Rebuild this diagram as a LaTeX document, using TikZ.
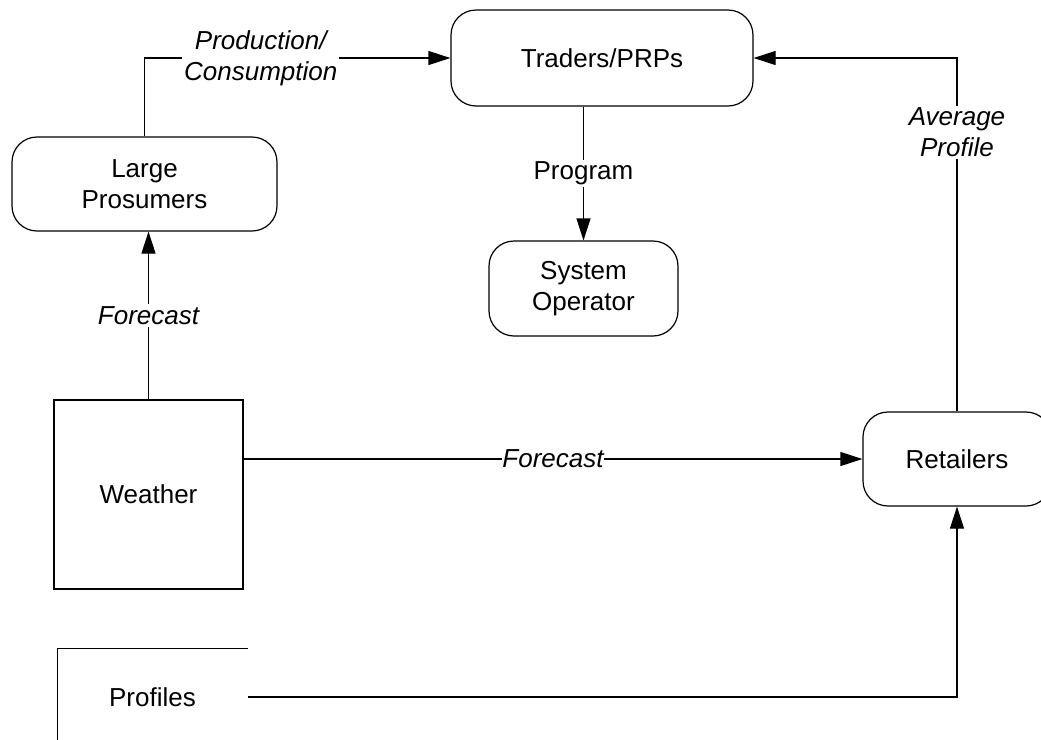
\documentclass[tikz,border=0pt]{standalone}
\usepackage{fontspec}
\setmainfont{Liberation Sans}
\usetikzlibrary{arrows.meta,positioning}
\newcommand\diafont{\fontsize{13}{15.5}\selectfont}

\begin{document}
\begin{tikzpicture}[x=0.5pt,y=-0.5pt,line width=0.6pt,font=\diafont,
  actor/.style={draw,rounded corners=12.5pt,align=center,inner sep=0pt},
  flow/.style={-{Triangle[length=11pt,width=7pt]}},
  lbl/.style={fill=white,inner sep=1pt,align=center,font=\diafont\itshape}]
\useasboundingbox (0,0) rectangle (1041,740);
% boxes
\node[actor,minimum width=151pt,minimum height=48pt] (traders) at (602,58) {Traders/PRPs};
\node[actor,minimum width=132.5pt,minimum height=47pt] (prosumers) at (144.5,184) {Large\\Prosumers};
\node[actor,minimum width=94.5pt,minimum height=47.5pt] (sysop) at (583.5,288.5) {System\\Operator};
\node[actor,minimum width=94pt,minimum height=47pt] (retail) at (957,459) {Retailers};
\node[draw,minimum width=94.5pt,minimum height=94.5pt] (weather) at (148.5,494.5) {Weather};
\node[minimum width=94.5pt,minimum height=48pt] (profiles) at (152.5,697) {Profiles};
\draw (profiles.south west) -- (profiles.north west) -- (profiles.north east);
% flows
\draw[flow] (prosumers.north) |- node[lbl,pos=0.69]{Production/\\Consumption} (traders.west);
\draw[flow] (weather.north) -- node[lbl]{Forecast} (weather.north |- prosumers.south);
\draw[flow] (sysop.north |- traders.south) -- node[lbl,font=\diafont]{Program} (sysop.north);
\draw[flow] (weather.east |- retail.west) -- node[lbl,inner sep=0pt]{Forecast} (retail.west);
\draw[flow] (retail.north) |- node[lbl,pos=0.395]{Average\\Profile} (traders.east);
\draw[flow] (profiles.east) -| (retail.south);
\end{tikzpicture}
\end{document}
